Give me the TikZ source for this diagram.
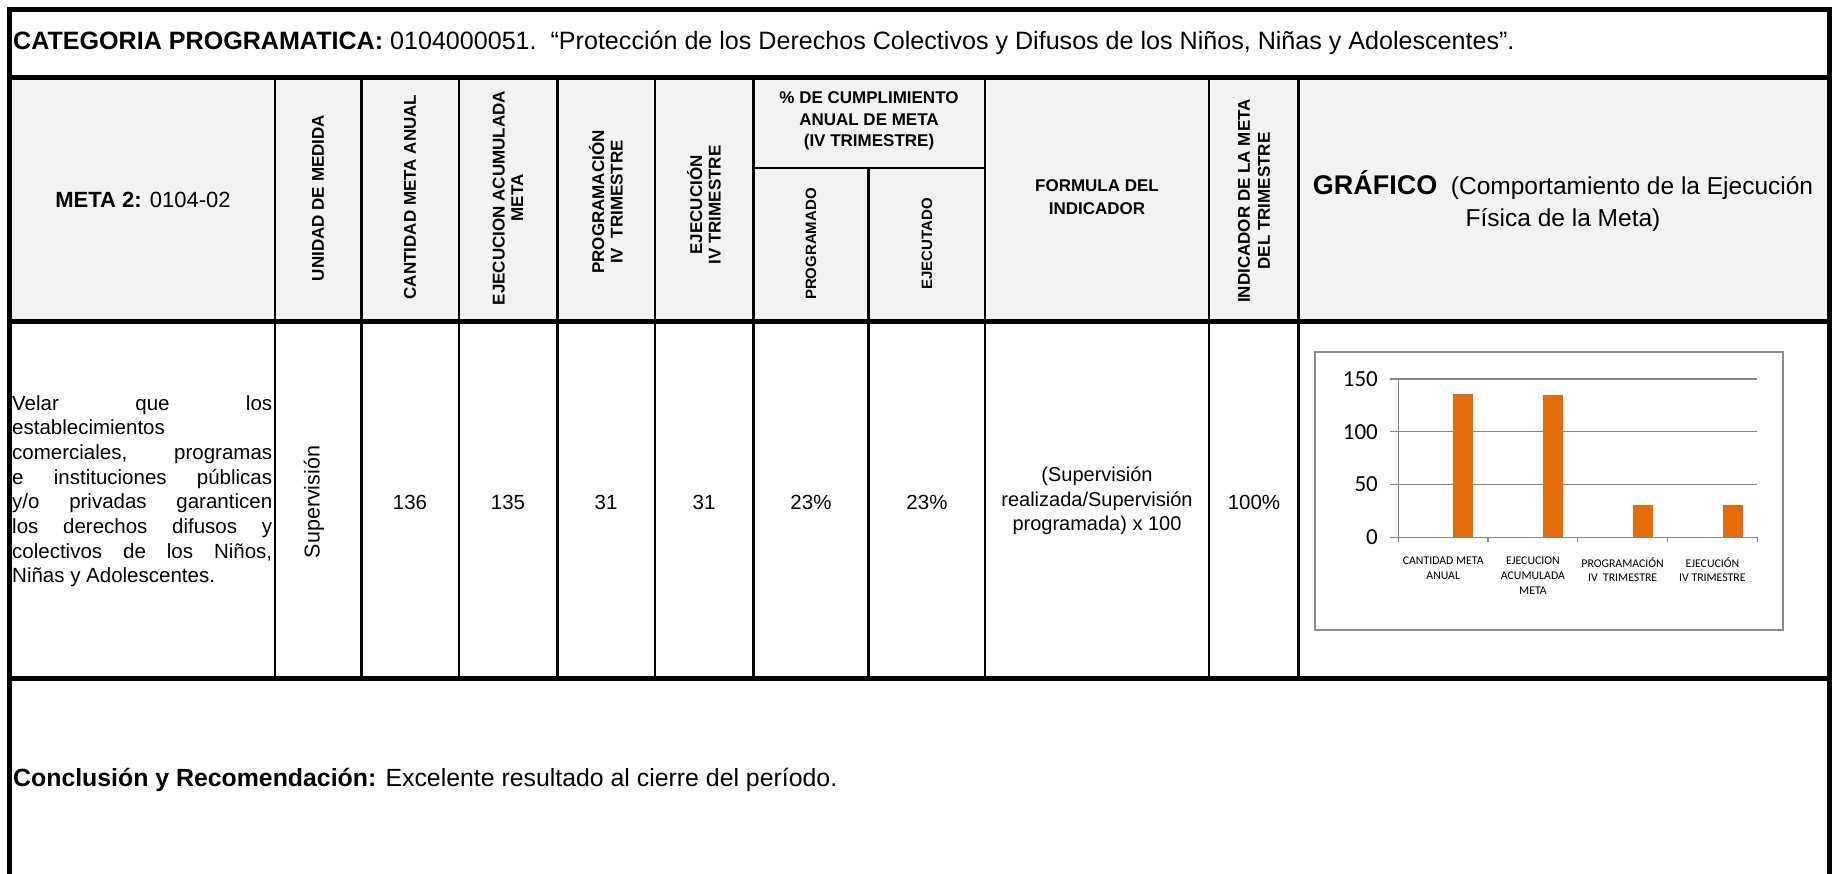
\documentclass[tikz,border=0pt]{standalone}
\usepackage{fontspec}
\setmainfont{Liberation Sans}
\newfontfamily\calfont{Carlito}
\definecolor{hdrgray}{HTML}{F2F2F2}
\definecolor{barorange}{HTML}{E46C0A}
\definecolor{gridgray}{HTML}{868686}
\definecolor{framegray}{HTML}{8C8C8C}
\begin{document}
\begin{tikzpicture}[x=1pt,y=-1pt,
  frameline/.style={line width=4.5pt, line join=miter},
  thickrule/.style={line width=5pt},
  colrule/.style={line width=2.7pt},
  hdr/.style={font=\bfseries\fontsize{17}{21.5}\selectfont, align=center, inner sep=0pt},
  rhdr/.style={font=\bfseries\fontsize{17}{18.5}\selectfont, align=center, inner sep=0pt, rotate=90},
  rsub/.style={font=\bfseries\fontsize{15}{18}\selectfont, inner sep=0pt, rotate=90},
  dat/.style={font=\fontsize{20.5}{24.7}\selectfont, inner sep=0pt},
  ylab/.style={font=\calfont\fontsize{23}{26}\selectfont, inner sep=0pt, anchor=east},
  xlab/.style={font=\calfont\fontsize{11.8}{14.8}\selectfont, inner sep=0pt, align=center, anchor=north},
  gridln/.style={draw=gridgray, line width=1.3pt}
]
\useasboundingbox (0,0) rectangle (1841,873);
\fill[white] (0,0) rectangle (1841,873);
\fill[hdrgray] (9.5,77) rectangle (1829.5,321);

% table rules
\foreach \x in {275,361.6,459,557.7,655,753.7,985,1209,1298.5}
  \draw[colrule] (\x,77) -- (\x,678);
\draw[colrule] (868.8,168) -- (868.8,678);
\draw[colrule] (753.7,168) -- (985,168);
\foreach \y in {77,321,678}
  \draw[thickrule] (9.5,\y) -- (1829.5,\y);
\draw[frameline] (9.5,885) -- (9.5,9.5) -- (1829.5,9.5) -- (1829.5,885);

% title row
\node[font=\fontsize{25.1}{29}\selectfont, inner sep=0pt, anchor=west] (title) at (13,43) {\textbf{CATEGORIA PROGRAMATICA:} 0104000051.\ \ “Protección de los Derechos Colectivos y Difusos de los Niños, Niñas y Adolescentes”.};

% header row
\node[font=\fontsize{22}{25}\selectfont, inner sep=0pt] (meta) at (143,200) {\textbf{META 2:} 0104-02};
\node[rhdr] (hunit) at (318,198) {UNIDAD DE MEDIDA};
\node[rhdr] (hcant) at (410,197) {CANTIDAD META ANUAL};
\node[rhdr] (hejac) at (508,198) {EJECUCION ACUMULADA\\META};
\node[rhdr] (hprog) at (606,202) {PROGRAMACIÓN\\IV\ \ TRIMESTRE};
\node[rhdr] (hejec) at (704,205) {EJECUCIÓN\\IV TRIMESTRE};
\node[hdr] (hpct) at (869,121) {\% DE CUMPLIMIENTO\\ANUAL DE META\\(IV TRIMESTRE)};
\node[rsub] (hpgm) at (811,244) {PROGRAMADO};
\node[rsub] (hejt) at (927,244) {EJECUTADO};
\node[hdr, font=\bfseries\fontsize{17}{22.5}\selectfont] (hform) at (1097,197) {FORMULA DEL\\INDICADOR};
\node[rhdr, font=\bfseries\fontsize{17}{20}\selectfont] (hind) at (1254,201) {INDICADOR DE LA META\\DEL TRIMESTRE};
\node[align=center, inner sep=0pt, font=\fontsize{24.5}{31.5}\selectfont] (hgraf) at (1563,201) {{\bfseries\fontsize{27}{31.5}\selectfont GRÁFICO}\ \ (Comportamiento de la Ejecución\\Física de la Meta)};

% data row
\node[dat, anchor=north west, align=left] (desc) at (12,395) {\makebox[260pt][s]{Velar que los}\\establecimientos\\\makebox[260pt][s]{comerciales, programas}\\\makebox[260pt][s]{e instituciones públicas}\\\makebox[260pt][s]{y/o privadas garanticen}\\\makebox[260pt][s]{los derechos difusos y}\\\makebox[260pt][s]{colectivos de los Niños,}\\Niñas y Adolescentes.};
\node[dat, font=\fontsize{21.5}{25}\selectfont, rotate=90] (dunit) at (314,502) {Supervisión};
\node[dat] (dcant) at (410,502) {136};
\node[dat] (dejac) at (508,502) {135};
\node[dat] (dprog) at (606,502) {31};
\node[dat] (dejec) at (704,502) {31};
\node[dat] (dpgm) at (811,502) {23\%};
\node[dat] (dejt) at (927,502) {23\%};
\node[align=center, inner sep=0pt, font=\fontsize{20}{24.5}\selectfont] (dform) at (1097,501) {(Supervisión\\realizada/Supervisión\\programada) x 100};
\node[dat] (dind) at (1254,502) {100\%};

% chart
\draw[framegray, line width=2pt] (1315,352) rectangle (1783,630);
\foreach \v in {50,100,150}
  \draw[gridln] (1390,{537.3-1.0553*\v}) -- (1757.3,{537.3-1.0553*\v});
\draw[gridln] (1390,537.3) -- (1757.3,537.3);
\draw[gridln] (1398.3,379) -- (1398.3,537.3);
\foreach \x in {1398.3,1488,1577.7,1667.5,1757.3}
  \draw[gridln] (\x,537.3) -- (\x,542);
\fill[barorange] (1452.7,537.3) rectangle (1472.7,393.8);
\fill[barorange] (1542.7,537.3) rectangle (1562.7,394.8);
\fill[barorange] (1632.7,537.3) rectangle (1652.7,504.6);
\fill[barorange] (1722.7,537.3) rectangle (1742.7,504.6);
\node[ylab] (y150) at (1378,379) {150};
\node[ylab] (y100) at (1378,431.7) {100};
\node[ylab] (y50) at (1378,484) {50};
\node[ylab] (y0) at (1378,537.3) {0};
\node[xlab] (x1) at (1443.2,557) {CANTIDAD META\\ANUAL};
\node[xlab] (x2) at (1532.9,557) {EJECUCION\\ACUMULADA\\META};
\node[xlab] (x3) at (1622.6,557) {PROGRAMACIÓN\\IV\ \ TRIMESTRE};
\node[xlab] (x4) at (1712.4,557) {EJECUCIÓN\\IV TRIMESTRE};

% conclusion row
\node[font=\fontsize{24.85}{29}\selectfont, inner sep=0pt, anchor=west] (concl) at (13,779.5) {\textbf{Conclusión y Recomendación:} Excelente resultado al cierre del período.};
\end{tikzpicture}
\end{document}
